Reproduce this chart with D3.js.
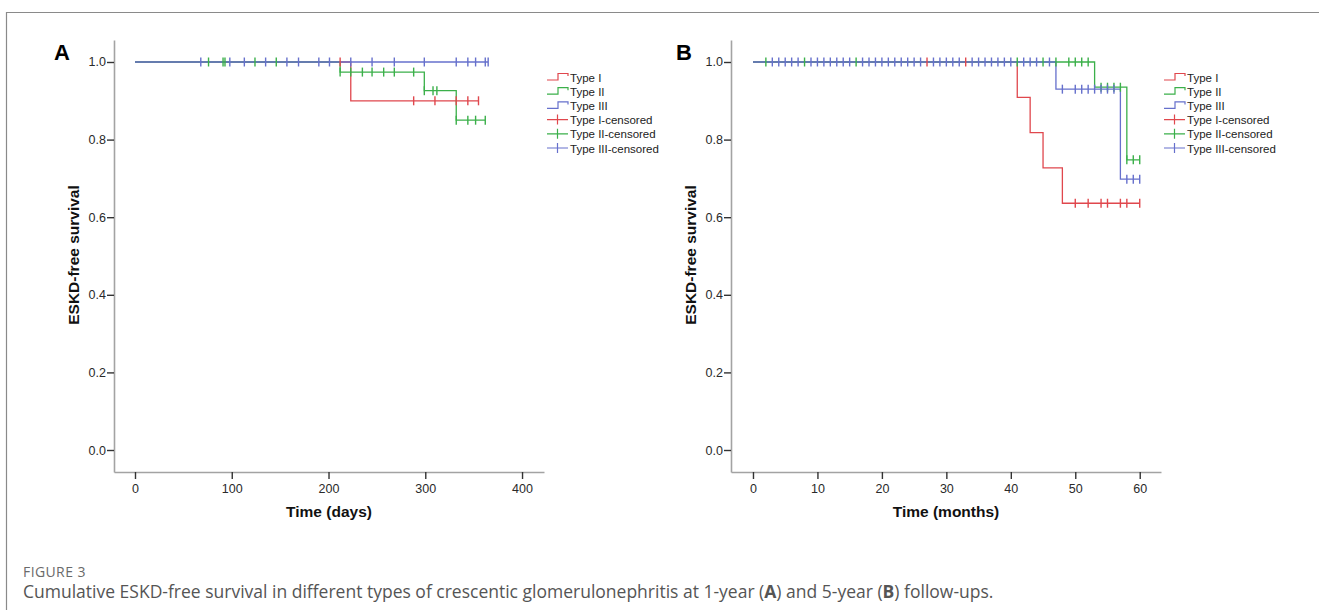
<!DOCTYPE html>
<html>
<head>
<meta charset="utf-8">
<script src="https://cdn.jsdelivr.net/npm/d3@7"></script>
<style>
  body { margin: 0; background: #fff; }
  svg { display: block; }
</style>
</head>
<body>
<svg width="1319" height="610"></svg>
<script>
// ---- data ----
const seriesNames = ["Type I", "Type II", "Type III"];
const yTicks = [0, 0.2, 0.4, 0.6, 0.8, 1.0];
const xTicksA = [0, 100, 200, 300, 400];
const xTicksB = [0, 10, 20, 30, 40, 50, 60];

// panel A (days): step times and survival after each step
const aI_time = [0, 223, 355];
const aI_surv = [1, 0.9, 0.9];
const aI_cens = [212, 288, 310, 332, 344, 355];
const aII_time = [0, 212, 299, 332, 362];
const aII_surv = [1, 0.974, 0.926, 0.85, 0.85];
const aII_cens = [76, 91, 93, 124, 146, 212, 223, 235, 245, 257, 268, 288, 299, 308, 312, 332, 344, 352, 362];
const aIII_time = [0, 365];
const aIII_surv = [1, 1];
const aIII_cens = [68, 98, 113, 135, 157, 169, 190, 201, 223, 245, 268, 299, 332, 344, 352, 362, 365];

// panel B (months)
const bI_time = [0, 41, 43, 45, 48, 60];
const bI_surv = [1, 0.909, 0.818, 0.727, 0.636, 0.636];
const bI_cens = [27, 33, 50, 52, 54, 55, 57, 58, 60];
const bII_time = [0, 53, 58, 60];
const bII_surv = [1, 0.935, 0.748, 0.748];
const bII_cens = [2, 8, 16, 41, 45, 47, 49, 50, 51, 52, 54, 55, 56, 57, 58, 59, 60];
const bIII_time = [0, 47, 57, 60];
const bIII_surv = [1, 0.93, 0.698, 0.698];
const bIII_cens = [3, 4, 5, 6, 7, 9, 10, 11, 12, 13, 14, 15, 17, 18, 19, 20, 21, 22, 23, 24, 25, 26,
  28, 29, 30, 31, 32, 34, 35, 36, 37, 38, 39, 40, 42, 43, 44, 46, 48, 50, 51, 52, 53, 54, 55, 56, 58, 59, 60];

const colors = ["#e0474d", "#3bb04a", "#6670cc"];

const svg = d3.select("svg");
const font = "'Liberation Sans', Arial, sans-serif";

// outer frame (left + top)
svg.append("path")
  .attr("d", "M6.5,610 V12.5 H1319")
  .attr("fill", "none")
  .attr("stroke", "#8a8a8a")
  .attr("stroke-width", 1.2);

const panel = (cfg) => {
  const x = d3.scaleLinear().domain(cfg.xDomain).range([cfg.left, cfg.right]);
  const y = d3.scaleLinear().domain([-0.0567, 1.0567]).range([472, 40]);

  const g = svg.append("g");

  // axes
  const xAxis = g.append("g")
    .attr("transform", "translate(0,472)")
    .call(d3.axisBottom(x).tickValues(cfg.xTicks).tickSize(7).tickPadding(3).tickSizeOuter(0).tickFormat(d3.format("d")));
  const yAxis = g.append("g")
    .attr("transform", `translate(${cfg.left},0)`)
    .call(d3.axisLeft(y).tickValues(yTicks).tickSize(7).tickPadding(1).tickSizeOuter(0).tickFormat(d3.format(".1f")));

  [xAxis, yAxis].forEach(a => {
    a.select(".domain").attr("stroke", "#a3a3a3").attr("stroke-width", 1.6);
    a.selectAll(".tick line").attr("stroke", "#333").attr("stroke-width", 1.4);
    a.selectAll(".tick text").attr("fill", "#2a2a2a").style("font", `12.5px ${font}`);
  });
  xAxis.selectAll(".tick text").attr("dy", "0.85em");

  // titles
  g.append("text")
    .attr("x", (cfg.left + cfg.right) / 2).attr("y", 517)
    .attr("text-anchor", "middle")
    .style("font", `bold 15.5px ${font}`).attr("fill", "#111")
    .text(cfg.xTitle);
  g.append("text")
    .attr("transform", `translate(${cfg.left - 35},255) rotate(-90)`)
    .attr("text-anchor", "middle")
    .style("font", `bold 15.5px ${font}`).attr("fill", "#111")
    .text("ESKD-free survival");
  g.append("text")
    .attr("x", cfg.letterX).attr("y", 60)
    .style("font", `bold 22px ${font}`).attr("fill", "#000")
    .text(cfg.letter);

  const line = d3.line().curve(d3.curveStepAfter)
    .x(d => x(d[0])).y(d => y(d[1]));

  cfg.series.forEach((s, i) => {
    const pts = s.time.map((t, j) => [t, s.surv[j]]);
    g.append("path")
      .datum(pts)
      .attr("fill", "none")
      .attr("stroke", colors[i])
      .attr("stroke-width", 1.3)
      .attr("d", line);
  });

  cfg.series.forEach((s, i) => {
    const survAt = t => s.surv[d3.bisectRight(s.time, t) - 1];
    g.append("g")
      .attr("stroke", colors[i])
      .attr("stroke-width", 1.4)
    .selectAll("line")
    .data(s.cens)
    .enter().append("line")
      .attr("x1", d => x(d)).attr("x2", d => x(d))
      .attr("y1", d => y(survAt(d)) - 4.5)
      .attr("y2", d => y(survAt(d)) + 4.5);
  });

  // legend
  const lg = g.append("g").attr("transform", `translate(${cfg.legendX},77)`);
  const rows = seriesNames.concat(seriesNames.map(n => n + "-censored"));
  rows.forEach((label, k) => {
    const c = colors[k % 3];
    const row = lg.append("g").attr("transform", `translate(0,${k * 14.2})`);
    if (k < 3) {
      row.append("path")
        .attr("d", "M0,3 H11 V-3.5 H21 V-1")
        .attr("fill", "none").attr("stroke", c).attr("stroke-width", 1.2);
    } else {
      row.append("path")
        .attr("d", "M0,0 H21 M10.5,-5 V5")
        .attr("fill", "none").attr("stroke", c).attr("stroke-width", 1.2);
    }
    row.append("text")
      .attr("x", 23).attr("y", 4.5)
      .style("font", `11.5px ${font}`).attr("fill", "#222")
      .text(label);
  });
};

panel({
  letter: "A", letterX: 54,
  left: 114, right: 544, xDomain: [-21.7, 422.7], xTicks: xTicksA,
  xTitle: "Time (days)", legendX: 547,
  series: [
    { time: aI_time, surv: aI_surv, cens: aI_cens },
    { time: aII_time, surv: aII_surv, cens: aII_cens },
    { time: aIII_time, surv: aIII_surv, cens: aIII_cens }
  ]
});

panel({
  letter: "B", letterX: 676,
  left: 731, right: 1161, xDomain: [-3.41, 63.3], xTicks: xTicksB,
  xTitle: "Time (months)", legendX: 1164,
  series: [
    { time: bI_time, surv: bI_surv, cens: bI_cens },
    { time: bII_time, surv: bII_surv, cens: bII_cens },
    { time: bIII_time, surv: bIII_surv, cens: bIII_cens }
  ]
});

// caption
svg.append("text")
  .attr("x", 23).attr("y", 577)
  .style("font", "14px 'Open Sans', sans-serif").style("letter-spacing", "0.4px").attr("fill", "#6a6a6a")
  .text("FIGURE 3");
const cap = svg.append("text")
  .attr("x", 23).attr("y", 598)
  .style("font", "17.5px 'Open Sans', sans-serif").attr("fill", "#555");
cap.append("tspan").text("Cumulative ESKD-free survival in different types of crescentic glomerulonephritis at 1-year (");
cap.append("tspan").attr("font-weight", "bold").text("A");
cap.append("tspan").text(") and 5-year (");
cap.append("tspan").attr("font-weight", "bold").text("B");
cap.append("tspan").text(") follow-ups.");
</script>
</body>
</html>
